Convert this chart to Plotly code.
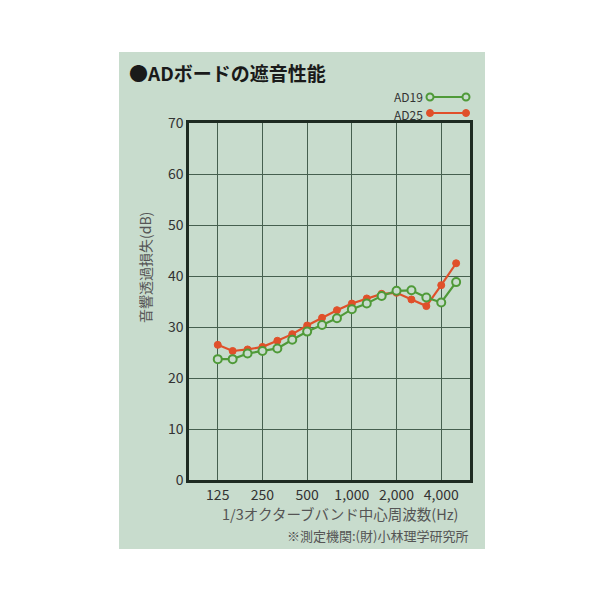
import plotly.graph_objects as go

freqs = ["125", "160", "200", "250", "315", "400", "500", "630", "800",
         "1000", "1250", "1600", "2000", "2500", "3150", "4000", "5000"]
ad19 = [23.7, 23.7, 24.8, 25.3, 25.8, 27.5, 29.1, 30.4, 31.7, 33.5,
        34.6, 36.1, 37.1, 37.2, 35.8, 34.8, 38.8]
ad25 = [26.5, 25.3, 25.6, 26.1, 27.3, 28.6, 30.3, 31.8, 33.3, 34.6,
        35.6, 36.5, 36.7, 35.4, 34.1, 38.2, 42.5]
tick_vals = ["125", "250", "500", "1000", "2000", "4000"]
tick_text = ["125", "250", "500", "1,000", "2,000", "4,000"]

OFF = 8  # page body margin
W, H = 600 - OFF, 600 - OFF
L, R, T, B = 189 - OFF, 470 - OFF, 123 - OFF, 480 - OFF
BG = "#c8dccd"
GREEN = "#4f9a38"
RED = "#e0502a"
FONT = "Noto Sans CJK JP"


def px(x):
    return (x - OFF - L) / (R - L)


def py(y):
    return (B - (y - OFF)) / (B - T)


fig = go.Figure()
fig.add_trace(go.Scatter(
    x=freqs, y=ad25, mode="lines+markers", name="AD25",
    line=dict(color=RED, width=2.2),
    marker=dict(color=RED, size=7, line=dict(color=RED, width=1)),
))
fig.add_trace(go.Scatter(
    x=freqs, y=ad19, mode="lines+markers", name="AD19",
    line=dict(color=GREEN, width=2.2),
    marker=dict(color=BG, size=8, line=dict(color=GREEN, width=2)),
))

shapes = [
    dict(type="rect", xref="paper", yref="paper", layer="below",
         x0=px(119), x1=px(485), y0=py(549), y1=py(52),
         fillcolor=BG, line=dict(width=0)),
    # legend
    dict(type="line", xref="paper", yref="paper", x0=px(430), x1=px(466),
         y0=py(97), y1=py(97), line=dict(color=GREEN, width=2.2)),
    dict(type="line", xref="paper", yref="paper", x0=px(430), x1=px(466),
         y0=py(113), y1=py(113), line=dict(color=RED, width=2.2)),
]
for cx in (430, 466):
    shapes.append(dict(type="circle", xref="paper", yref="paper",
                       xsizemode="pixel", ysizemode="pixel",
                       xanchor=px(cx), yanchor=py(97),
                       x0=-3.5, x1=3.5, y0=-3.5, y1=3.5,
                       fillcolor=BG, line=dict(color=GREEN, width=2)))
    shapes.append(dict(type="circle", xref="paper", yref="paper",
                       xsizemode="pixel", ysizemode="pixel",
                       xanchor=px(cx), yanchor=py(113),
                       x0=-3.5, x1=3.5, y0=-3.5, y1=3.5,
                       fillcolor=RED, line=dict(color=RED, width=1)))

annotations = [
    dict(text="<b>●ADボードの遮音性能</b>", xref="paper", yref="paper",
         x=px(127), y=py(72), xanchor="left", yanchor="middle",
         showarrow=False, font=dict(family=FONT, size=19, color="#1a1a1a")),
    dict(text="AD19", xref="paper", yref="paper", x=px(424), y=py(96),
         xanchor="right", yanchor="middle", showarrow=False, borderpad=0,
         font=dict(family=FONT, size=12, color="#333333")),
    dict(text="AD25", xref="paper", yref="paper", x=px(424), y=py(114),
         xanchor="right", yanchor="middle", showarrow=False, borderpad=0,
         font=dict(family=FONT, size=12, color="#333333")),
    dict(text="1/3オクターブバンド中心周波数(Hz)", xref="paper", yref="paper",
         x=px(340), y=py(513), xanchor="center", yanchor="middle",
         showarrow=False, font=dict(family=FONT, size=14.5, color="#555555")),
    dict(text="音響透過損失(dB)", xref="paper", yref="paper",
         x=px(145), y=py(268), xanchor="center", yanchor="middle",
         textangle=-90, showarrow=False,
         font=dict(family=FONT, size=14, color="#555555")),
    dict(text="※測定機関:(財)小林理学研究所", xref="paper", yref="paper",
         x=px(470), y=py(535), xanchor="right", yanchor="middle",
         showarrow=False, font=dict(family=FONT, size=13, color="#555555")),
]

fig.update_layout(
    width=W, height=H,
    margin=dict(l=L, r=W - R, t=T, b=H - B),
    paper_bgcolor="white", plot_bgcolor=BG,
    showlegend=False,
    shapes=shapes, annotations=annotations,
    font=dict(family=FONT, size=14, color="#333333"),
)
fig.update_xaxes(
    type="category", range=[-1.93, 16.93],
    tickmode="array", tickvals=tick_vals, ticktext=tick_text,
    showgrid=True, gridcolor="#46604f", gridwidth=1,
    showline=True, linecolor="#1e2b22", linewidth=2.5, mirror=True,
    ticks="", zeroline=False,
    tickfont=dict(family=FONT, size=14, color="#333333"),
)
fig.update_yaxes(
    range=[0, 70], dtick=10,
    showgrid=True, gridcolor="#46604f", gridwidth=1,
    showline=True, linecolor="#1e2b22", linewidth=2.5, mirror=True,
    ticks="", zeroline=False,
    tickfont=dict(family=FONT, size=14, color="#333333"),
)

fig.write_html("out.html")
